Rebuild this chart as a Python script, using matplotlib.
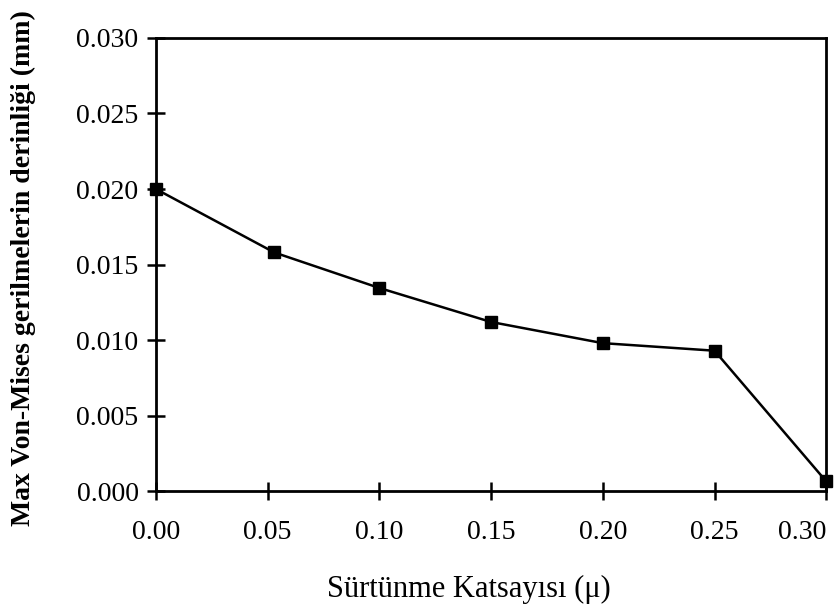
import matplotlib
matplotlib.use("Agg")
import matplotlib.pyplot as plt
from matplotlib.ticker import MultipleLocator, FormatStrFormatter

# friction coefficient vs depth of max von Mises stress
mu = [0.0, 0.053, 0.10, 0.15, 0.20, 0.25, 0.30]
depth = [0.0200, 0.0158, 0.01345, 0.0112, 0.0098, 0.0093, 0.00065]

x_ticks = [0.00, 0.05, 0.10, 0.15, 0.20, 0.25, 0.30]
x_ticklabels = ["0.00", "0.05", "0.10", "0.15", "0.20", "0.25", "0.30"]

plt.rcParams['font.family'] = ['Liberation Serif', 'DejaVu Serif']

fig = plt.figure(figsize=(8.38, 6.11), dpi=100)
ax = fig.add_axes([0.186, 0.196, 0.800, 0.742])

ax.plot(mu, depth, color='black', linewidth=1.8, marker='s',
        markersize=9, markerfacecolor='black', clip_on=False, zorder=3)

ax.set_xlim(0, 0.30)
ax.set_ylim(0, 0.030)
ax.set_xticks(x_ticks)
ax.set_xticklabels(x_ticklabels)
ax.yaxis.set_major_locator(MultipleLocator(0.005))
ax.yaxis.set_major_formatter(FormatStrFormatter('%.3f'))

for side in ['left', 'right', 'top', 'bottom']:
    ax.spines[side].set_linewidth(2)

ax.tick_params(axis='both', direction='inout', length=13, width=1.8,
               labelsize=20, top=False, right=False)
ax.tick_params(axis='x', pad=14)
ax.tick_params(axis='y', pad=6)
# last label sits against the figure edge
ax.get_xticklabels()[-1].set_horizontalalignment('right')

fig.text(0.56, 0.035, 'Sürtünme Katsayısı (μ)', ha='center', va='center',
         fontsize=22)
fig.text(0.028, 0.561, 'Max Von-Mises gerilmelerin derinliği (mm)',
         ha='center', va='center', rotation=90, fontsize=20,
         fontweight='bold')

fig.savefig('out.png', dpi=100)
